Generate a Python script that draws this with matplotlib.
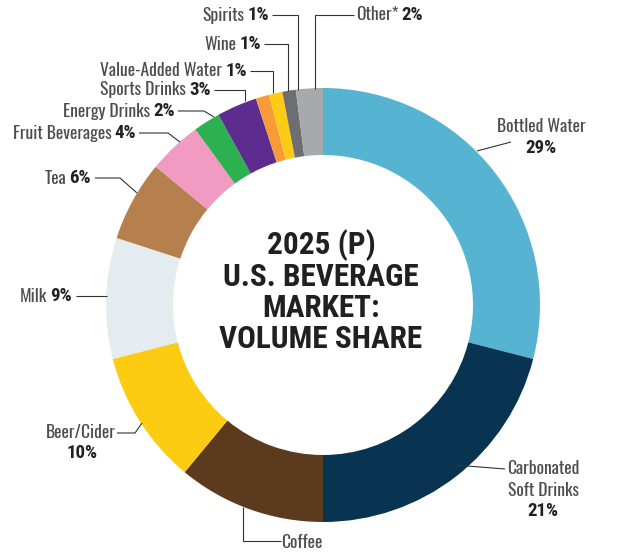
import matplotlib
matplotlib.use("Agg")
import matplotlib.pyplot as plt
from matplotlib import font_manager

# slice data, clockwise from 12 o'clock
categories = ["Bottled Water", "Carbonated Soft Drinks", "Coffee", "Beer/Cider", "Milk",
              "Tea", "Fruit Beverages", "Energy Drinks", "Sports Drinks",
              "Value-Added Water", "Wine", "Spirits", "Other*"]
shares = [29, 21, 11, 10, 9, 6, 4, 2, 3, 1, 1, 1, 2]
pct_labels = ["29%", "21%", "11%", "10%", "9%", "6%", "4%", "2%", "3%", "1%", "1%", "1%", "2%"]
colors = ["#56B3D1", "#083452", "#5C3A1E", "#FCCB12", "#E4ECF0",
          "#B67F4E", "#F19AC2", "#2DB04F", "#5C2D8F",
          "#F79A37", "#FDCB14", "#6D6E71", "#A7A9AC"]
title_lines = ["2025 (P)", "U.S. BEVERAGE", "MARKET:", "VOLUME SHARE"]

installed = {f.name for f in font_manager.fontManager.ttflist}


def pick(*names):
    for n in names:
        if n in installed:
            return n
    return "DejaVu Sans"


NAME_FONT = pick("Oswald", "Roboto Condensed", "DejaVu Sans")
PCT_FONT = pick("Roboto Condensed", "Oswald", "DejaVu Sans")
TITLE_FONT = pick("Roboto Condensed", "DejaVu Sans")
GRAY = "#4D4D4F"
DARK = "#231F20"
SIZE = 12.6
PSIZE = 13.6

fig = plt.figure(figsize=(6.22, 5.55), dpi=100)
ax = fig.add_axes([0, 0, 1, 1])

# pie in pixel coordinates, y axis flipped so picture coords can be used
cx, cy, R = 323, 305, 217
ax.pie(shares, colors=colors, startangle=-90, counterclock=True,
       center=(cx, cy), radius=R, frame=True,
       wedgeprops=dict(width=R - 150, linewidth=0))
ax.set_xlim(0, 622)
ax.set_ylim(555, 0)
ax.axis("off")

fig.canvas.draw()
renderer = fig.canvas.get_renderer()
inv = ax.transData.inverted()


def name_text(x, y, s, ha):
    return ax.text(x, y, s, ha=ha, va="center", fontsize=SIZE,
                   color=GRAY, family=NAME_FONT)


def pct_text(x, y, s, ha):
    return ax.text(x, y, s, ha=ha, va="center", fontsize=PSIZE,
                   fontweight="bold", color=DARK, family=PCT_FONT)


def label_right(x, y, i):
    # bold percent right aligned at x, name in front of it
    t = pct_text(x, y, pct_labels[i], "right")
    bb = t.get_window_extent(renderer)
    x0 = inv.transform((bb.x0, bb.y0))[0]
    name_text(x0 - 3, y, categories[i], "right")


def label_left(x, y, i):
    t = name_text(x, y, categories[i], "left")
    bb = t.get_window_extent(renderer)
    x1 = inv.transform((bb.x1, bb.y0))[0]
    pct_text(x1 + 3, y, pct_labels[i], "left")


def leader(xs, ys):
    ax.plot(xs, ys, color="#333333", lw=0.8, solid_capstyle="butt")


# top small slices
label_right(269, 15, 11)
leader([272, 298, 298], [15, 15, 90])
label_right(261, 44, 10)
leader([264, 288, 288], [44, 44, 91])
label_right(247, 71, 9)
leader([250, 273, 273], [71, 71, 93])
label_right(211, 90, 8)
leader([214, 245, 245], [90, 90, 101])
label_right(175, 111, 7)
leader([178, 204, 214], [111, 111, 117])
label_right(136, 133, 6)
leader([139, 168, 180], [133, 133, 142])
label_right(91, 178, 5)
leader([95, 120, 137], [178, 178, 193])
label_right(72, 296, 4)
leader([76, 107], [296, 296])

label_left(356, 15, 12)
leader([354, 315, 315], [15, 15, 89])

# multi-line labels
name_text(116, 433, categories[3], "right")
pct_text(82, 453, pct_labels[3], "center")
leader([117, 135, 142], [433, 433, 423])

name_text(541, 127, categories[0], "center")
pct_text(541, 148, pct_labels[0], "center")
leader([477, 511], [151, 142])

name_text(543, 469, "Carbonated", "center")
name_text(543, 490, "Soft Drinks", "center")
pct_text(543, 511, pct_labels[1], "center")
leader([455, 505], [465, 469])

name_text(302, 542, categories[2], "center")
pct_text(302, 564, pct_labels[2], "center")
leader([243, 243, 281], [507, 541, 541])

# centre title
for i, line in enumerate(title_lines):
    ax.text(321, 245 + i * 31.5, line, ha="center", va="center", fontsize=22.5,
            fontweight="bold", color=DARK, family=TITLE_FONT)

fig.savefig("out.png", dpi=100)
